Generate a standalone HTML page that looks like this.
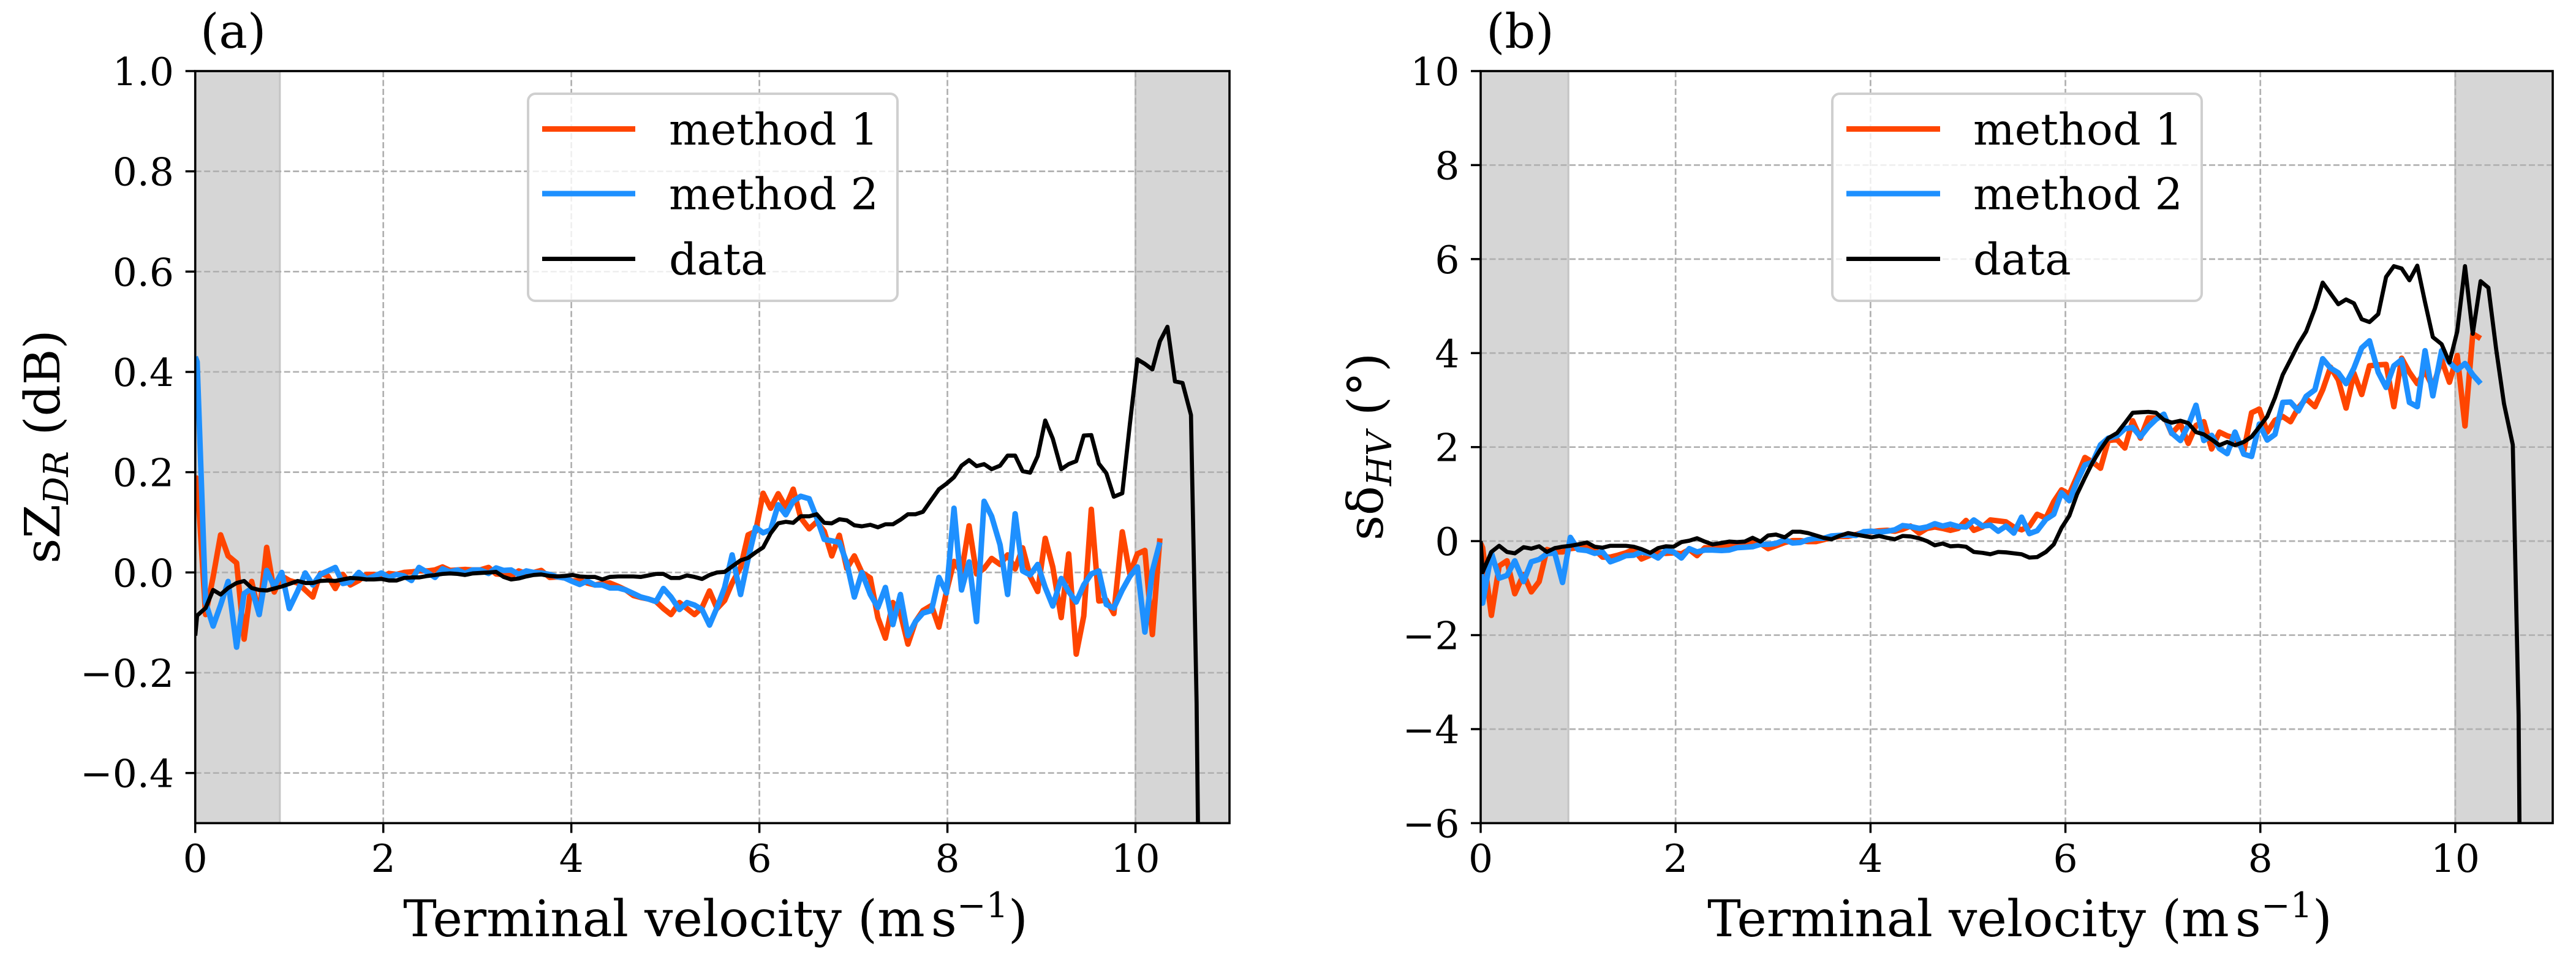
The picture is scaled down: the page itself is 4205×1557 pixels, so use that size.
<!DOCTYPE html>
<html lang="en">
<head>
<meta charset="utf-8">
<title>Terminal velocity comparison chart</title>
<style>
html,body{margin:0;padding:0;background:#fff;}
svg{display:block;}
text{font-family:"DejaVu Serif","Liberation Serif",serif;fill:#000;}
</style>
</head>
<body>
<svg xmlns="http://www.w3.org/2000/svg" width="4205" height="1557" viewBox="0 0 4205 1557">
  <defs>
    <clipPath id="clip-a"><rect x="318.7" y="116" width="1688.3" height="1227.4"/></clipPath>
    <clipPath id="clip-b"><rect x="2417" y="116" width="1750" height="1227.4"/></clipPath>
  </defs>
  <rect x="0" y="0" width="4205" height="1557" fill="#fff"/>

  <g id="panel-a">
    <g id="marks-a"></g>
    <g>
      <rect x="862" y="153" width="603" height="338" rx="12" ry="12" fill="#fff" fill-opacity="0.8" stroke="#cfcfcf" stroke-width="4"/>
      <line x1="885" x2="1037" y1="210.5" y2="210.5" stroke="#ff4500" stroke-width="9"/>
      <text x="1092" y="236" font-size="71.5">method 1</text>
      <line x1="885" x2="1037" y1="316" y2="316" stroke="#1e90ff" stroke-width="9"/>
      <text x="1092" y="341.5" font-size="71.5">method 2</text>
      <line x1="885" x2="1037" y1="422.5" y2="422.5" stroke="#000" stroke-width="7"/>
      <text x="1092" y="448" font-size="71.5">data</text>
    </g>
    <text x="327" y="78" font-size="78">(a)</text>
    <text x="1168" y="1528" font-size="82" text-anchor="middle">Terminal velocity (m<tspan dx="10">s</tspan><tspan dy="-31" font-size="57">−1</tspan><tspan dy="31">)</tspan></text>
    <text transform="translate(97,729) rotate(-90)" font-size="80" text-anchor="middle">sZ<tspan dy="14" font-size="56" font-style="italic">DR</tspan><tspan dy="-14"> (dB)</tspan></text>
  </g>

  <g id="panel-b">
    <g id="marks-b"></g>
    <g>
      <rect x="2991" y="153" width="603" height="338" rx="12" ry="12" fill="#fff" fill-opacity="0.8" stroke="#cfcfcf" stroke-width="4"/>
      <line x1="3014" x2="3167" y1="210.5" y2="210.5" stroke="#ff4500" stroke-width="9"/>
      <text x="3221" y="236" font-size="71.5">method 1</text>
      <line x1="3014" x2="3167" y1="316" y2="316" stroke="#1e90ff" stroke-width="9"/>
      <text x="3221" y="341.5" font-size="71.5">method 2</text>
      <line x1="3014" x2="3167" y1="422.5" y2="422.5" stroke="#000" stroke-width="7"/>
      <text x="3221" y="448" font-size="71.5">data</text>
    </g>
    <text x="2426" y="78" font-size="78">(b)</text>
    <text x="3297" y="1528" font-size="82" text-anchor="middle">Terminal velocity (m<tspan dx="10">s</tspan><tspan dy="-31" font-size="57">−1</tspan><tspan dy="31">)</tspan></text>
    <text transform="translate(2257,729) rotate(-90)" font-size="80" text-anchor="middle">sδ<tspan dy="14" font-size="56" font-style="italic">HV</tspan><tspan dy="-14"> (°)</tspan></text>
  </g>
</svg>

<script>
const velocity = [0,
  0.02,0.11,0.19,0.27,0.35,0.44,0.52,0.60,0.68,0.76,
  0.84,0.92,1.00,1.09,1.17,1.25,1.33,1.41,1.49,1.57,
  1.65,1.74,1.82,1.90,1.98,2.06,2.14,2.22,2.30,2.38,
  2.47,2.55,2.63,2.71,2.79,2.87,2.95,3.03,3.12,3.20,
  3.28,3.36,3.44,3.52,3.60,3.68,3.77,3.85,3.93,4.01,
  4.09,4.17,4.25,4.33,4.41,4.50,4.58,4.66,4.74,4.82,
  4.90,4.98,5.06,5.15,5.23,5.31,5.39,5.47,5.55,5.63,
  5.71,5.80,5.88,5.96,6.04,6.12,6.20,6.28,6.36,6.44,
  6.53,6.61,6.69,6.77,6.85,6.93,7.01,7.09,7.18,7.26,
  7.34,7.42,7.50,7.58,7.66,7.74,7.83,7.91,7.99,8.07,
  8.15,8.23,8.31,8.39,8.47,8.56,8.64,8.72,8.80,8.88,
  8.96,9.04,9.12,9.21,9.29,9.37,9.45,9.53,9.61,9.69,
  9.77,9.86,9.94,10.02,10.10,10.18,10.26,10.34,10.42,10.50,
  10.59,10.65,10.67];

const szdrMethod1 = [0.19,
  0.187,-0.084,-0.009,0.075,0.033,0.019,-0.133,-0.018,-0.084,0.050,
  -0.039,-0.007,-0.016,-0.021,-0.035,-0.049,-0.002,-0.007,-0.032,-0.004,
  -0.025,-0.016,-0.004,-0.004,-0.011,-0.002,-0.004,0.000,0.001,0.003,
  0.003,0.005,0.011,0.004,0.005,0.006,0.005,0.005,0.010,-0.003,
  -0.004,-0.007,0.003,-0.002,0.000,0.004,-0.010,-0.009,-0.011,-0.017,
  -0.016,-0.021,-0.025,-0.022,-0.021,-0.028,-0.035,-0.046,-0.050,-0.053,
  -0.058,-0.072,-0.084,-0.060,-0.072,-0.084,-0.070,-0.037,-0.072,-0.056,
  -0.021,0.010,0.075,0.082,0.158,0.128,0.157,0.131,0.166,0.109,
  0.087,0.101,0.082,0.033,0.074,0.008,0.033,0.000,-0.011,-0.090,
  -0.131,-0.060,-0.082,-0.143,-0.098,-0.076,-0.066,-0.109,-0.038,0.022,
  0.000,0.093,-0.003,0.008,0.028,0.016,0.035,0.007,0.049,-0.008,
  -0.038,0.068,0.011,-0.090,0.037,-0.163,-0.087,0.126,-0.057,-0.055,
  -0.082,0.081,-0.003,0.037,0.044,-0.124,0.068];

const szdrMethod2 = [0.43,
  0.42,-0.060,-0.107,-0.065,-0.018,-0.149,-0.042,-0.032,-0.084,0.004,
  -0.028,0.000,-0.072,-0.037,-0.001,-0.025,-0.004,0.003,0.010,-0.022,
  -0.019,0.000,-0.013,-0.008,-0.001,-0.010,-0.004,-0.007,-0.016,0.010,
  0.000,-0.010,0.007,0.001,0.005,-0.002,0.005,0.005,-0.002,0.009,
  0.004,0.005,-0.004,0.003,0.000,-0.001,-0.004,-0.009,-0.011,-0.018,
  -0.024,-0.017,-0.025,-0.025,-0.031,-0.031,-0.035,-0.042,-0.049,-0.053,
  -0.058,-0.032,-0.049,-0.074,-0.060,-0.065,-0.074,-0.105,-0.070,-0.030,
  0.035,-0.044,0.027,0.090,0.079,0.085,0.135,0.115,0.142,0.152,
  0.147,0.109,0.066,0.063,0.060,0.019,-0.049,0.000,-0.044,-0.070,
  -0.030,-0.104,-0.044,-0.126,-0.098,-0.081,-0.076,-0.010,-0.041,0.128,
  -0.035,0.021,-0.098,0.142,0.112,0.055,-0.044,0.117,0.003,-0.005,
  0.016,-0.030,-0.067,-0.012,-0.038,-0.059,-0.025,-0.003,0.003,-0.064,
  -0.071,-0.035,-0.008,0.011,-0.119,0.003,0.060];

const szdrData = [-0.126,
  -0.086,-0.071,-0.035,-0.044,-0.031,-0.021,-0.017,-0.031,-0.035,-0.036,
  -0.032,-0.028,-0.023,-0.017,-0.021,-0.021,-0.017,-0.016,-0.017,-0.014,
  -0.011,-0.012,-0.014,-0.014,-0.013,-0.016,-0.016,-0.011,-0.010,-0.010,
  -0.007,-0.005,-0.003,-0.002,-0.003,-0.005,-0.002,-0.001,0.000,0.001,
  -0.009,-0.014,-0.012,-0.008,-0.005,-0.004,-0.007,-0.008,-0.007,-0.005,
  -0.008,-0.009,-0.009,-0.014,-0.009,-0.008,-0.008,-0.008,-0.009,-0.006,
  -0.003,-0.003,-0.011,-0.011,-0.006,-0.009,-0.013,-0.005,0.000,0.001,
  0.012,0.024,0.029,0.040,0.050,0.078,0.098,0.101,0.099,0.112,
  0.112,0.116,0.099,0.098,0.106,0.104,0.094,0.092,0.095,0.090,
  0.096,0.096,0.105,0.116,0.116,0.121,0.145,0.166,0.177,0.190,
  0.213,0.224,0.212,0.216,0.206,0.213,0.233,0.233,0.202,0.199,
  0.232,0.303,0.267,0.206,0.216,0.222,0.273,0.274,0.217,0.198,
  0.151,0.158,0.295,0.425,0.416,0.405,0.461,0.490,0.381,0.378,
  0.314,-0.26,-0.60];

const sdhvMethod1 = [-0.05,
  -0.14,-1.58,-0.53,-0.42,-1.12,-0.71,-1.08,-0.86,-0.18,-0.23,
  -0.23,-0.16,-0.14,-0.10,-0.18,-0.34,-0.34,-0.30,-0.25,-0.18,
  -0.38,-0.30,-0.25,-0.26,-0.25,-0.27,-0.18,-0.31,-0.14,-0.14,
  -0.13,-0.10,-0.07,-0.05,-0.03,-0.05,-0.16,-0.10,-0.03,0.01,
  0.01,-0.01,-0.01,0.03,0.08,0.10,0.10,0.14,0.19,0.20,
  0.22,0.23,0.21,0.25,0.32,0.17,0.27,0.30,0.27,0.23,
  0.27,0.44,0.23,0.30,0.45,0.43,0.41,0.30,0.24,0.32,
  0.57,0.49,0.84,1.09,1.00,1.38,1.78,1.68,1.55,2.14,
  2.16,1.98,2.56,2.19,2.62,2.62,2.68,2.29,2.49,2.08,
  2.46,2.54,1.96,2.32,2.24,2.19,1.92,2.73,2.81,2.32,
  2.57,2.65,2.54,2.84,3.03,2.86,3.22,3.70,3.43,2.83,
  3.57,3.12,3.73,3.75,3.76,2.86,3.89,3.59,3.35,3.62,
  3.27,3.86,3.38,3.95,2.45,4.41,4.31];

const sdhvMethod2 = [-0.30,
  -1.32,-0.25,-0.79,-0.73,-0.42,-0.86,-0.44,-0.39,-0.27,-0.25,
  -0.88,0.08,-0.18,-0.20,-0.26,-0.23,-0.44,-0.38,-0.31,-0.30,
  -0.23,-0.27,-0.36,-0.20,-0.23,-0.36,-0.16,-0.23,-0.19,-0.19,
  -0.20,-0.19,-0.14,-0.13,-0.12,-0.07,-0.07,-0.05,0.03,-0.04,
  -0.03,0.03,0.06,0.06,0.11,0.12,0.13,0.12,0.20,0.21,
  0.19,0.21,0.24,0.33,0.31,0.27,0.30,0.37,0.32,0.36,
  0.31,0.30,0.45,0.32,0.34,0.21,0.32,0.17,0.51,0.16,
  0.22,0.46,0.57,1.03,0.86,1.27,1.62,1.68,2.05,2.19,
  2.24,2.39,2.42,2.22,2.43,2.59,2.70,2.30,2.14,2.46,
  2.89,2.14,2.25,1.97,1.86,2.32,1.85,1.80,2.49,2.15,
  2.27,2.95,2.96,2.77,3.08,3.22,3.88,3.68,3.58,3.35,
  3.68,4.11,4.26,3.59,3.27,3.73,3.86,2.95,2.86,4.05,
  3.09,4.05,3.80,3.64,3.78,3.54,3.35];

const sdhvData = [0.00,
  -0.66,-0.23,-0.10,-0.23,-0.26,-0.13,-0.16,-0.11,-0.23,-0.15,
  -0.12,-0.10,-0.07,-0.03,-0.12,-0.14,-0.10,-0.10,-0.10,-0.12,
  -0.17,-0.25,-0.15,-0.11,-0.12,-0.02,0.01,0.06,-0.01,-0.07,
  -0.04,-0.01,-0.02,-0.01,0.07,-0.01,0.12,0.14,0.08,0.20,
  0.20,0.17,0.12,0.07,0.04,0.11,0.17,0.14,0.11,0.08,
  0.11,0.07,0.04,0.11,0.10,0.06,0.00,-0.09,-0.05,-0.11,
  -0.10,-0.12,-0.23,-0.25,-0.28,-0.23,-0.24,-0.26,-0.28,-0.35,
  -0.34,-0.23,-0.07,0.28,0.54,1.00,1.35,1.68,1.95,2.19,
  2.30,2.51,2.73,2.74,2.75,2.73,2.58,2.52,2.56,2.51,
  2.32,2.27,2.16,2.04,2.11,2.04,2.11,2.22,2.43,2.65,
  3.05,3.54,3.86,4.19,4.46,4.95,5.50,5.27,5.04,5.14,
  5.06,4.72,4.66,4.83,5.62,5.85,5.80,5.55,5.86,5.08,
  4.34,4.19,3.80,4.46,5.85,4.41,5.53,5.39,4.08,2.92,
  2.05,-3.7,-9.0];

const xTicks = [0,2,4,6,8,10];
const xTickLabels = ["0","2","4","6","8","10"];
const yTicksA = [-0.4,-0.2,0.0,0.2,0.4,0.6,0.8,1.0];
const yTickLabelsA = ["−0.4","−0.2","0.0","0.2","0.4","0.6","0.8","1.0"];
const yTicksB = [-6,-4,-2,0,2,4,6,8,10];
const yTickLabelsB = ["−6","−4","−2","0","2","4","6","8","10"];
const shadedBands = [[0,0.9],[10,11]];

const SVGNS = 'http://www.w3.org/2000/svg';

function make(tag, parent, attrs) {
  const el = document.createElementNS(SVGNS, tag);
  for (const k in attrs) el.setAttribute(k, attrs[k]);
  parent.appendChild(el);
  return el;
}

function drawPanel(cfg) {
  const g = document.getElementById(cfg.groupId);
  const sx = v => cfg.left + (v - 0) / 11 * (cfg.right - cfg.left);
  const sy = v => cfg.bottom - (v - cfg.yMin) / (cfg.yMax - cfg.yMin) * (cfg.bottom - cfg.top);

  shadedBands.forEach(band => {
    const r = make('rect', g, {x: sx(band[0]), y: cfg.top, width: sx(band[1]) - sx(band[0]), height: cfg.bottom - cfg.top, fill: '#d6d6d6', stroke: '#c4c4c4', 'stroke-width': 3});
    
    
  });

  xTicks.forEach(t => {
    const l = make('line', g, {x1: sx(t), x2: sx(t), y1: cfg.top, y2: cfg.bottom, stroke: '#b0b0b0', 'stroke-width': 2.7, 'stroke-dasharray': '10 4.5'});
    
    
  });
  cfg.yTicks.forEach(t => {
    const l = make('line', g, {x1: cfg.left, x2: cfg.right, y1: sy(t), y2: sy(t), stroke: '#b0b0b0', 'stroke-width': 2.7, 'stroke-dasharray': '10 4.5'});
    
    
  });

  const series = [
    {values: cfg.method1, color: '#ff4500', width: 9, name: 'series-method-1'},
    {values: cfg.method2, color: '#1e90ff', width: 9, name: 'series-method-2'},
    {values: cfg.data, color: '#000000', width: 6.7, name: 'series-data'}
  ];
  series.forEach(s => {
    const pts = s.values.map((y, i) => sx(velocity[i]).toFixed(1) + ',' + sy(y).toFixed(1)).join(' ');
    const p = make('polyline', g, {points: pts, fill: 'none', stroke: s.color, 'stroke-width': s.width, 'stroke-linejoin': 'round', 'clip-path': 'url(#' + cfg.clipId + ')'});
    
    
  });

  xTicks.forEach((t, i) => {
    const m = make('line', g, {x1: sx(t), x2: sx(t), y1: cfg.bottom, y2: cfg.bottom + 16, stroke: '#000', 'stroke-width': 3.5});
    
    
    const tx = make('text', g, {x: sx(t), y: 1423, 'font-size': 63, 'text-anchor': 'middle'});
    tx.textContent = xTickLabels[i];
    
    
  });
  cfg.yTicks.forEach((t, i) => {
    const m = make('line', g, {x1: cfg.left - 16, x2: cfg.left, y1: sy(t), y2: sy(t), stroke: '#000', 'stroke-width': 3.5});
    
    
    const tx = make('text', g, {x: cfg.labelRight, y: sy(t) + 23, 'font-size': 63, 'text-anchor': 'end'});
    tx.textContent = cfg.yLabels[i];
    
    
  });

  const frame = make('rect', g, {x: cfg.left, y: cfg.top, width: cfg.right - cfg.left, height: cfg.bottom - cfg.top, fill: 'none', stroke: '#000', 'stroke-width': 3.6});
  
  
}

drawPanel({groupId: 'marks-a', clipId: 'clip-a', left: 318.7, right: 2007, top: 116, bottom: 1343.4, yMin: -0.5, yMax: 1.0, yTicks: yTicksA, yLabels: yTickLabelsA, labelRight: 284, method1: szdrMethod1, method2: szdrMethod2, data: szdrData});
drawPanel({groupId: 'marks-b', clipId: 'clip-b', left: 2417, right: 4167, top: 116, bottom: 1343.4, yMin: -6, yMax: 10, yTicks: yTicksB, yLabels: yTickLabelsB, labelRight: 2382.5, method1: sdhvMethod1, method2: sdhvMethod2, data: sdhvData});
</script>
</body>
</html>
